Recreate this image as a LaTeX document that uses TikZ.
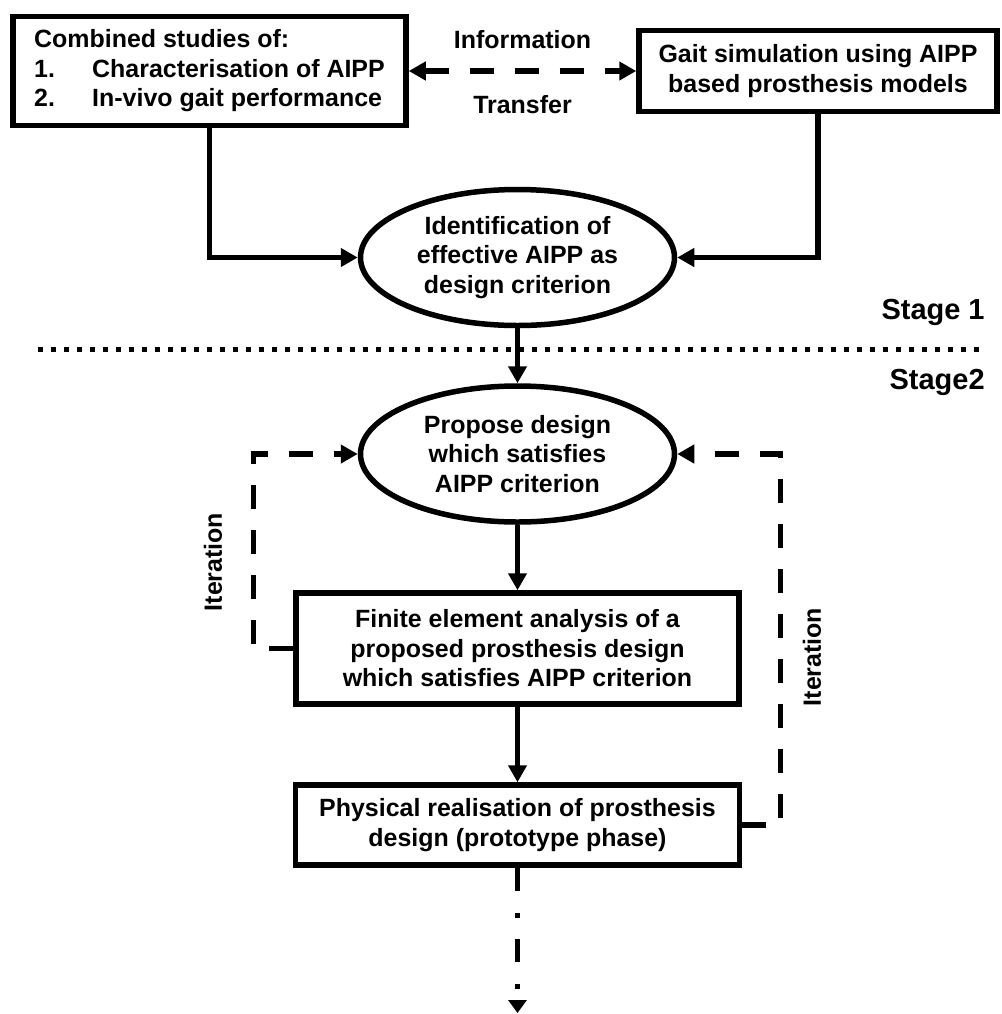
\documentclass[tikz,border=0pt]{standalone}
\usepackage{fontspec}
\setmainfont{Liberation Sans}
\usetikzlibrary{arrows.meta,shapes.geometric,positioning}

\begin{document}
\begin{tikzpicture}[
    >={Triangle[length=0.34cm,width=0.36cm]},
    box/.style={draw, line width=0.11cm, align=center, inner sep=0pt, font=\bfseries\fontsize{14.2}{16.8}\selectfont},
    oval/.style={box, ellipse, minimum width=6.28cm, minimum height=2.72cm},
    arr/.style={->, line width=0.11cm},
    dasharr/.style={arr, dash pattern=on 0.48cm off 0.42cm},
    lbl/.style={inner sep=0pt, font=\bfseries\fontsize{14.2}{16.8}\selectfont},
    stagelbl/.style={inner sep=0pt, anchor=east, font=\bfseries\fontsize{16.5}{19}\selectfont}
]
\useasboundingbox (0,0) rectangle (20.02,-20.28);

\node[box, align=left, minimum width=7.86cm, minimum height=2.18cm] (studies) at (4.19,-1.42) {Combined studies of:\\\makebox[1.16cm][l]{1.}Characterisation of AIPP\\\makebox[1.16cm][l]{2.}In-vivo gait performance};
\node[box, minimum width=7.16cm, minimum height=1.62cm] (gaitsim) at (16.36,-1.42) {Gait simulation using AIPP\\based prosthesis models};
\node[oval] (ident) at (10.35,-5.15) {Identification of\\effective AIPP as\\design criterion};
\node[oval] (propose) at (10.35,-9.08) {Propose design\\which satisfies\\AIPP criterion};
\node[box, minimum width=8.86cm, minimum height=2.22cm] (fea) at (10.35,-12.97) {Finite element analysis of a\\proposed prosthesis design\\which satisfies AIPP criterion};
\node[box, minimum width=8.88cm, minimum height=1.6cm] (phys) at (10.35,-16.5) {Physical realisation of prosthesis\\design (prototype phase)};

\coordinate (divl) at (0.76,-6.98);
\coordinate (divr) at (19.74,-6.98);
\coordinate (cont) at (10.35,-20.26);
\node[stagelbl] (stage1) at (19.7,-6.24) {Stage 1};
\node[stagelbl] (stage2) at (19.7,-7.64) {Stage2};
\node[lbl, rotate=90] (iterl) at (4.26,-11.24) {Iteration};
\node[lbl, rotate=90] (iterr) at (16.24,-13.14) {Iteration};

\draw[dasharr, <->] (studies.east) -- node[lbl, above=0.4cm] {Information} node[lbl, below=0.44cm] {Transfer} (gaitsim.west);
\draw[arr] (studies.south) |- (ident.west);
\draw[arr] (gaitsim.south) |- (ident.east);
\draw[line width=0.1cm, dash pattern=on 0.1cm off 0.16cm] (divl) -- (divr);
\draw[arr] (ident) -- (propose);
\draw[arr] (propose) -- (fea);
\draw[arr] (fea) -- (phys);
\draw[dasharr] (fea.west) -- ++(-0.8,0) |- (propose.west);
\draw[dasharr] (phys.east) -- ++(0.76,0) |- (propose.east);
\draw[-{Triangle[length=0.26cm,width=0.36cm]}, line width=0.11cm, dash pattern=on 0.46cm off 0.44cm on 0.1cm off 0.42cm] (phys.south) -- (cont);
\end{tikzpicture}
\end{document}
